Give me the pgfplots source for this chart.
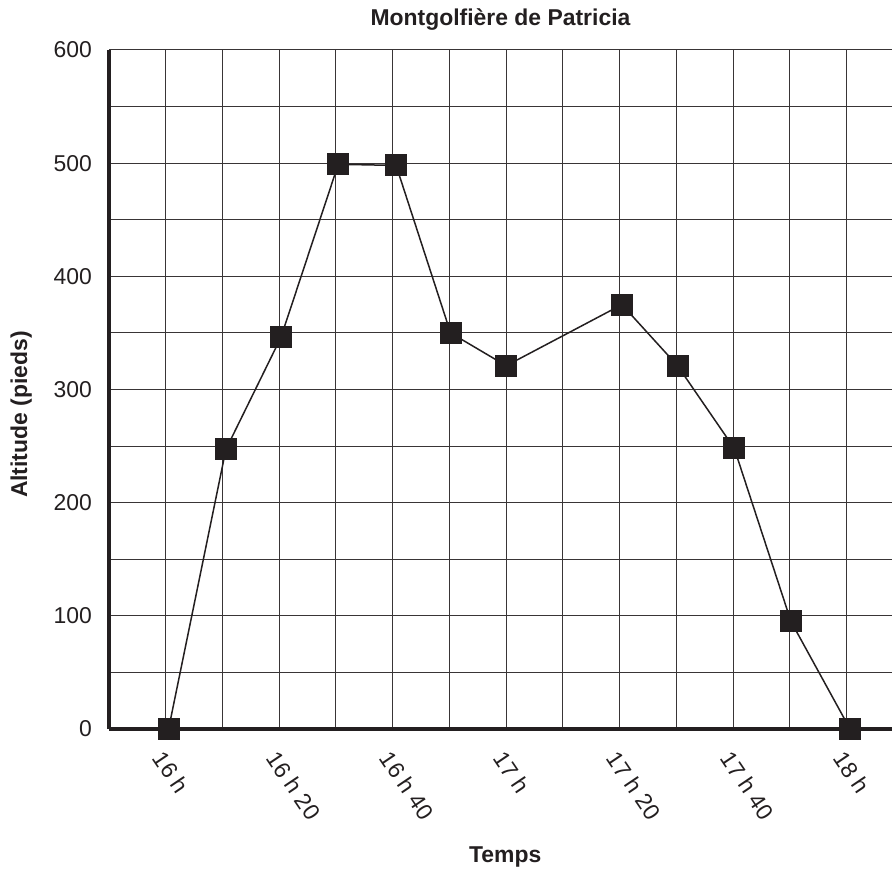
\documentclass[border=0pt]{standalone}
\usepackage{pgfplots}
\pgfplotsset{compat=1.18}
\usepackage{fontspec}
\setmainfont{Liberation Sans}
\definecolor{ink}{HTML}{231F20}

% minutes after 16 h, altitude in feet
\pgfplotstableread{
t alt
0.5 0
10.6 247
20.3 346
30.4 499
40.6 498
50.2 350
60.0 321
80.4 375
90.2 321
100.2 248
110.2 95
120.6 0
}\vol

\begin{document}
\begin{tikzpicture}
\begin{axis}[
    name=ax,
    scale only axis,
    width=783bp, height=679bp,
    xmin=-10, xmax=128,
    ymin=0, ymax=600,
    axis x line=bottom, axis y line=left,
    axis line style={line width=3.5bp, ink, -},
    xtick={0,20,...,120},
    xticklabels={16 h,16 h 20,16 h 40,17 h,17 h 20,17 h 40,18 h},
    minor xtick={10,30,...,110},
    ytick={0,100,...,600},
    minor ytick={50,150,...,550},
    grid=both,
    major grid style={line width=1bp, ink!90},
    minor grid style={line width=1bp, ink!90},
    major tick length=0pt, minor tick length=0pt,
    /pgf/number format/assume math mode=true,
    tick label style={font=\fontsize{23}{26}\selectfont, ink},
    xticklabel style={xshift=0bp, yshift=-20bp, rotate=-56, anchor=north west, inner sep=0pt},
    yticklabel style={anchor=east, inner sep=0pt, xshift=-17bp},
    title={Montgolfière de Patricia},
    title style={font=\bfseries\fontsize{23}{26}\selectfont, ink, at={(axis description cs:0.5,1.036)}, anchor=center},
    xlabel={Temps},
    xlabel style={font=\bfseries\fontsize{23}{26}\selectfont, ink, at={(axis description cs:0.506,-0.1885)}, anchor=center},
    ylabel={Altitude (pieds)},
    ylabel style={font=\bfseries\fontsize{23}{26}\selectfont, ink, at={(axis description cs:-0.112,0.463)}, anchor=center},
    clip=false,
]
\addplot[ink, line width=1.5bp, mark=square*, mark size=10.5bp,
    mark options={fill=ink, draw=ink, line width=0pt}] table[x=t, y=alt] {\vol};
\end{axis}
\pgfresetboundingbox
\useasboundingbox ([xshift=-109bp, yshift=-144bp]ax.south west) rectangle ([yshift=50bp]ax.north east);
\end{tikzpicture}
\end{document}
